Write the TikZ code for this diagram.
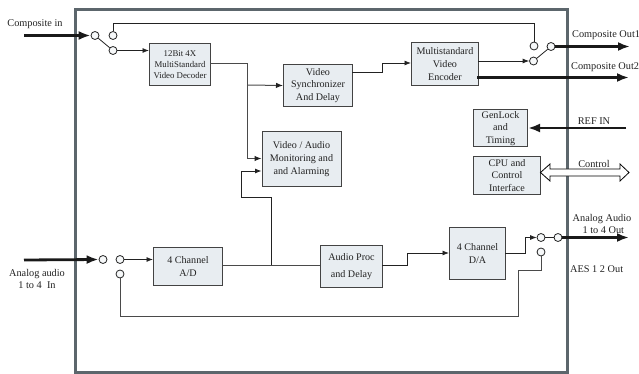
\documentclass[tikz,border=0pt]{standalone}
\usepackage{fontspec}
\setmainfont{Liberation Serif}
\usetikzlibrary{arrows.meta,shapes.arrows}
\definecolor{boxfill}{HTML}{E8EDF1}
\definecolor{framec}{HTML}{5C666C}
\definecolor{inkc}{HTML}{222222}
\definecolor{greywire}{HTML}{4A4A4A}
\tikzset{
 x=1pt,y=-1pt,
 blockbox/.style={draw=inkc!85,line width=1pt,fill=boxfill,align=center,font=\fontsize{10.1}{12.6}\selectfont,inner sep=0pt,anchor=north west,text=inkc},
 port/.style={circle,draw=inkc,line width=0.8pt,fill=boxfill!40,minimum size=8pt,inner sep=0pt},
 wire/.style={draw=inkc,line width=0.8pt},
 greyw/.style={draw=greywire,line width=1pt},
 sig/.style={wire,-{Latex[length=6.5pt,width=5pt]}},
 greysig/.style={greyw,-{Latex[length=7pt,width=5.5pt,color=inkc]}},
 fat/.style={draw=black!90,line width=2.8pt,-{Latex[length=12pt,width=9pt]}},
 lab/.style={font=\fontsize{10.3}{12.6}\selectfont,align=center,text=inkc,inner sep=0pt},
}
\begin{document}
\begin{tikzpicture}
\useasboundingbox (0,0) rectangle (639,374);
\draw[framec,line width=3pt] (75,9.5) rectangle (567,372);
% blocks
\node[blockbox,minimum width=61pt,minimum height=42pt,font=\fontsize{8.8}{11}\selectfont] (dec) at (149,43) {12Bit 4X\\MultiStandard\\Video Decoder};
\node[blockbox,minimum width=69pt,minimum height=42pt] (sync) at (283,64) {Video\\Synchronizer\\And Delay};
\node[blockbox,minimum width=79pt,minimum height=54pt] (mon) at (261.5,131.5) {Video / Audio\\Monitoring and\\and Alarming};
\node[blockbox,minimum width=67pt,minimum height=43pt] (enc) at (411,42) {Multistandard\\Video\\Encoder};
\node[blockbox,minimum width=54pt,minimum height=37pt] (gen) at (473,109.5) {GenLock\\and\\Timing};
\node[blockbox,minimum width=67pt,minimum height=38pt] (cpu) at (473,156) {CPU and\\Control\\Interface};
\node[blockbox,minimum width=69pt,minimum height=38pt] (ad) at (153,247) {4 Channel\\A/D};
\node[blockbox,minimum width=62pt,minimum height=42pt,font=\fontsize{10.1}{17}\selectfont] (proc) at (320,245) {Audio Proc\\and Delay};
\node[blockbox,minimum width=56pt,minimum height=52pt] (da) at (449,227) {4 Channel\\D/A};
% ports
\node[port] (pa) at (95,35.5) {};
\node[port] (pb) at (113,35.5) {};
\node[port] (pc) at (113,50.5) {};
\node[port] (pd) at (534,46) {};
\node[port] (pe) at (533.5,61) {};
\node[port] (pf) at (551,46.5) {};
\node[port] (pg) at (103,259.5) {};
\node[port] (ph) at (120,259.5) {};
\node[port] (pi) at (120,274) {};
\node[port] (pj) at (541,237.5) {};
\node[port] (pk) at (558,237.5) {};
\node[port] (pl) at (541,252) {};
% free ends
\coordinate (cin) at (24,35.5);
\coordinate (o1) at (630,46.5);
\coordinate (o2) at (629,77.5);
\coordinate (o2s) at (477,77.5);
\coordinate (refin) at (626,128);
\coordinate (ain) at (24,260);
\coordinate (aout) at (629,237.5);
% wires
\draw[wire] (pb.north) |- (113,23.5) -| (pd.north);
\draw[wire] (pa) -- (pc);
\draw[wire] (pe) -- (pf);
\draw[sig] (pc.east) -- (dec.west|-pc);
\draw[greyw] (210,64) -- (247,64) -- (247,158.5);
\draw[greysig] (247,85) -- (sync.west);
\draw[greysig] (247,158.5) -- (mon.west|-0,158.5);
\draw[sig] (271.5,265.7) -- (271.5,197) -- (241.5,197) -- (241.5,171) -- (mon.west|-0,171);
\draw[sig] (352,72.5) -- (382,72.5) -- (382,63) -- (411,63);
\draw[sig] (478,61) -- (pe.west);
\draw[greyw] (ad.east|-0,265.7) -- (proc.west|-0,265.7);
\draw[sig] (382,265.5) -- (407,265.5) -- (407,253) -- (da.west|-0,253);
\draw[sig] (505,253) -- (525,253) -- (525,237.5) -- (pj.west);
\draw[wire] (pj) -- (pk);
\draw[sig] (ph.east) -- (ad.west|-ph);
\draw[greyw] (pi.south) -- (120,316) -- (518,316) -- (518,270) -- (541,270) -- (pl.south);
% thick
\draw[fat] (cin) -- (pa.west);
\draw[fat] (pf.east) -- (o1);
\draw[fat] (o2s) -- (o2);
\draw[fat] (refin) -- (gen.east|-refin);
\draw[fat] (ain) -- (pg.west);
\draw[fat] (pk.east) -- (aout);
\draw[draw=black,line width=0.8pt,fill=white] (540.5,172.5) -- (550,164) -- (550,169) -- (620,169) -- (620,164) -- (629,172.5) -- (620,181) -- (620,176) -- (550,176) -- (550,181) -- cycle;
% labels
\node[lab] (l1) at (35,24.5) {Composite in};
\node[lab,anchor=west] (l2) at (572,35.5) {Composite Out1};
\node[lab,anchor=west] (l3) at (571,67) {Composite Out2};
\node[lab] (l4) at (594,121.5) {REF IN};
\node[lab] (l5) at (594,163.5) {Control};
\node[lab] (l6) at (37,279) {Analog audio\\1 to 4~ In};
\node[lab] (l7) at (602,224) {Analog Audio\\~1 to 4 Out};
\node[lab,anchor=west] (l8) at (570,269.5) {AES 1 2 Out};
\end{tikzpicture}
\end{document}
